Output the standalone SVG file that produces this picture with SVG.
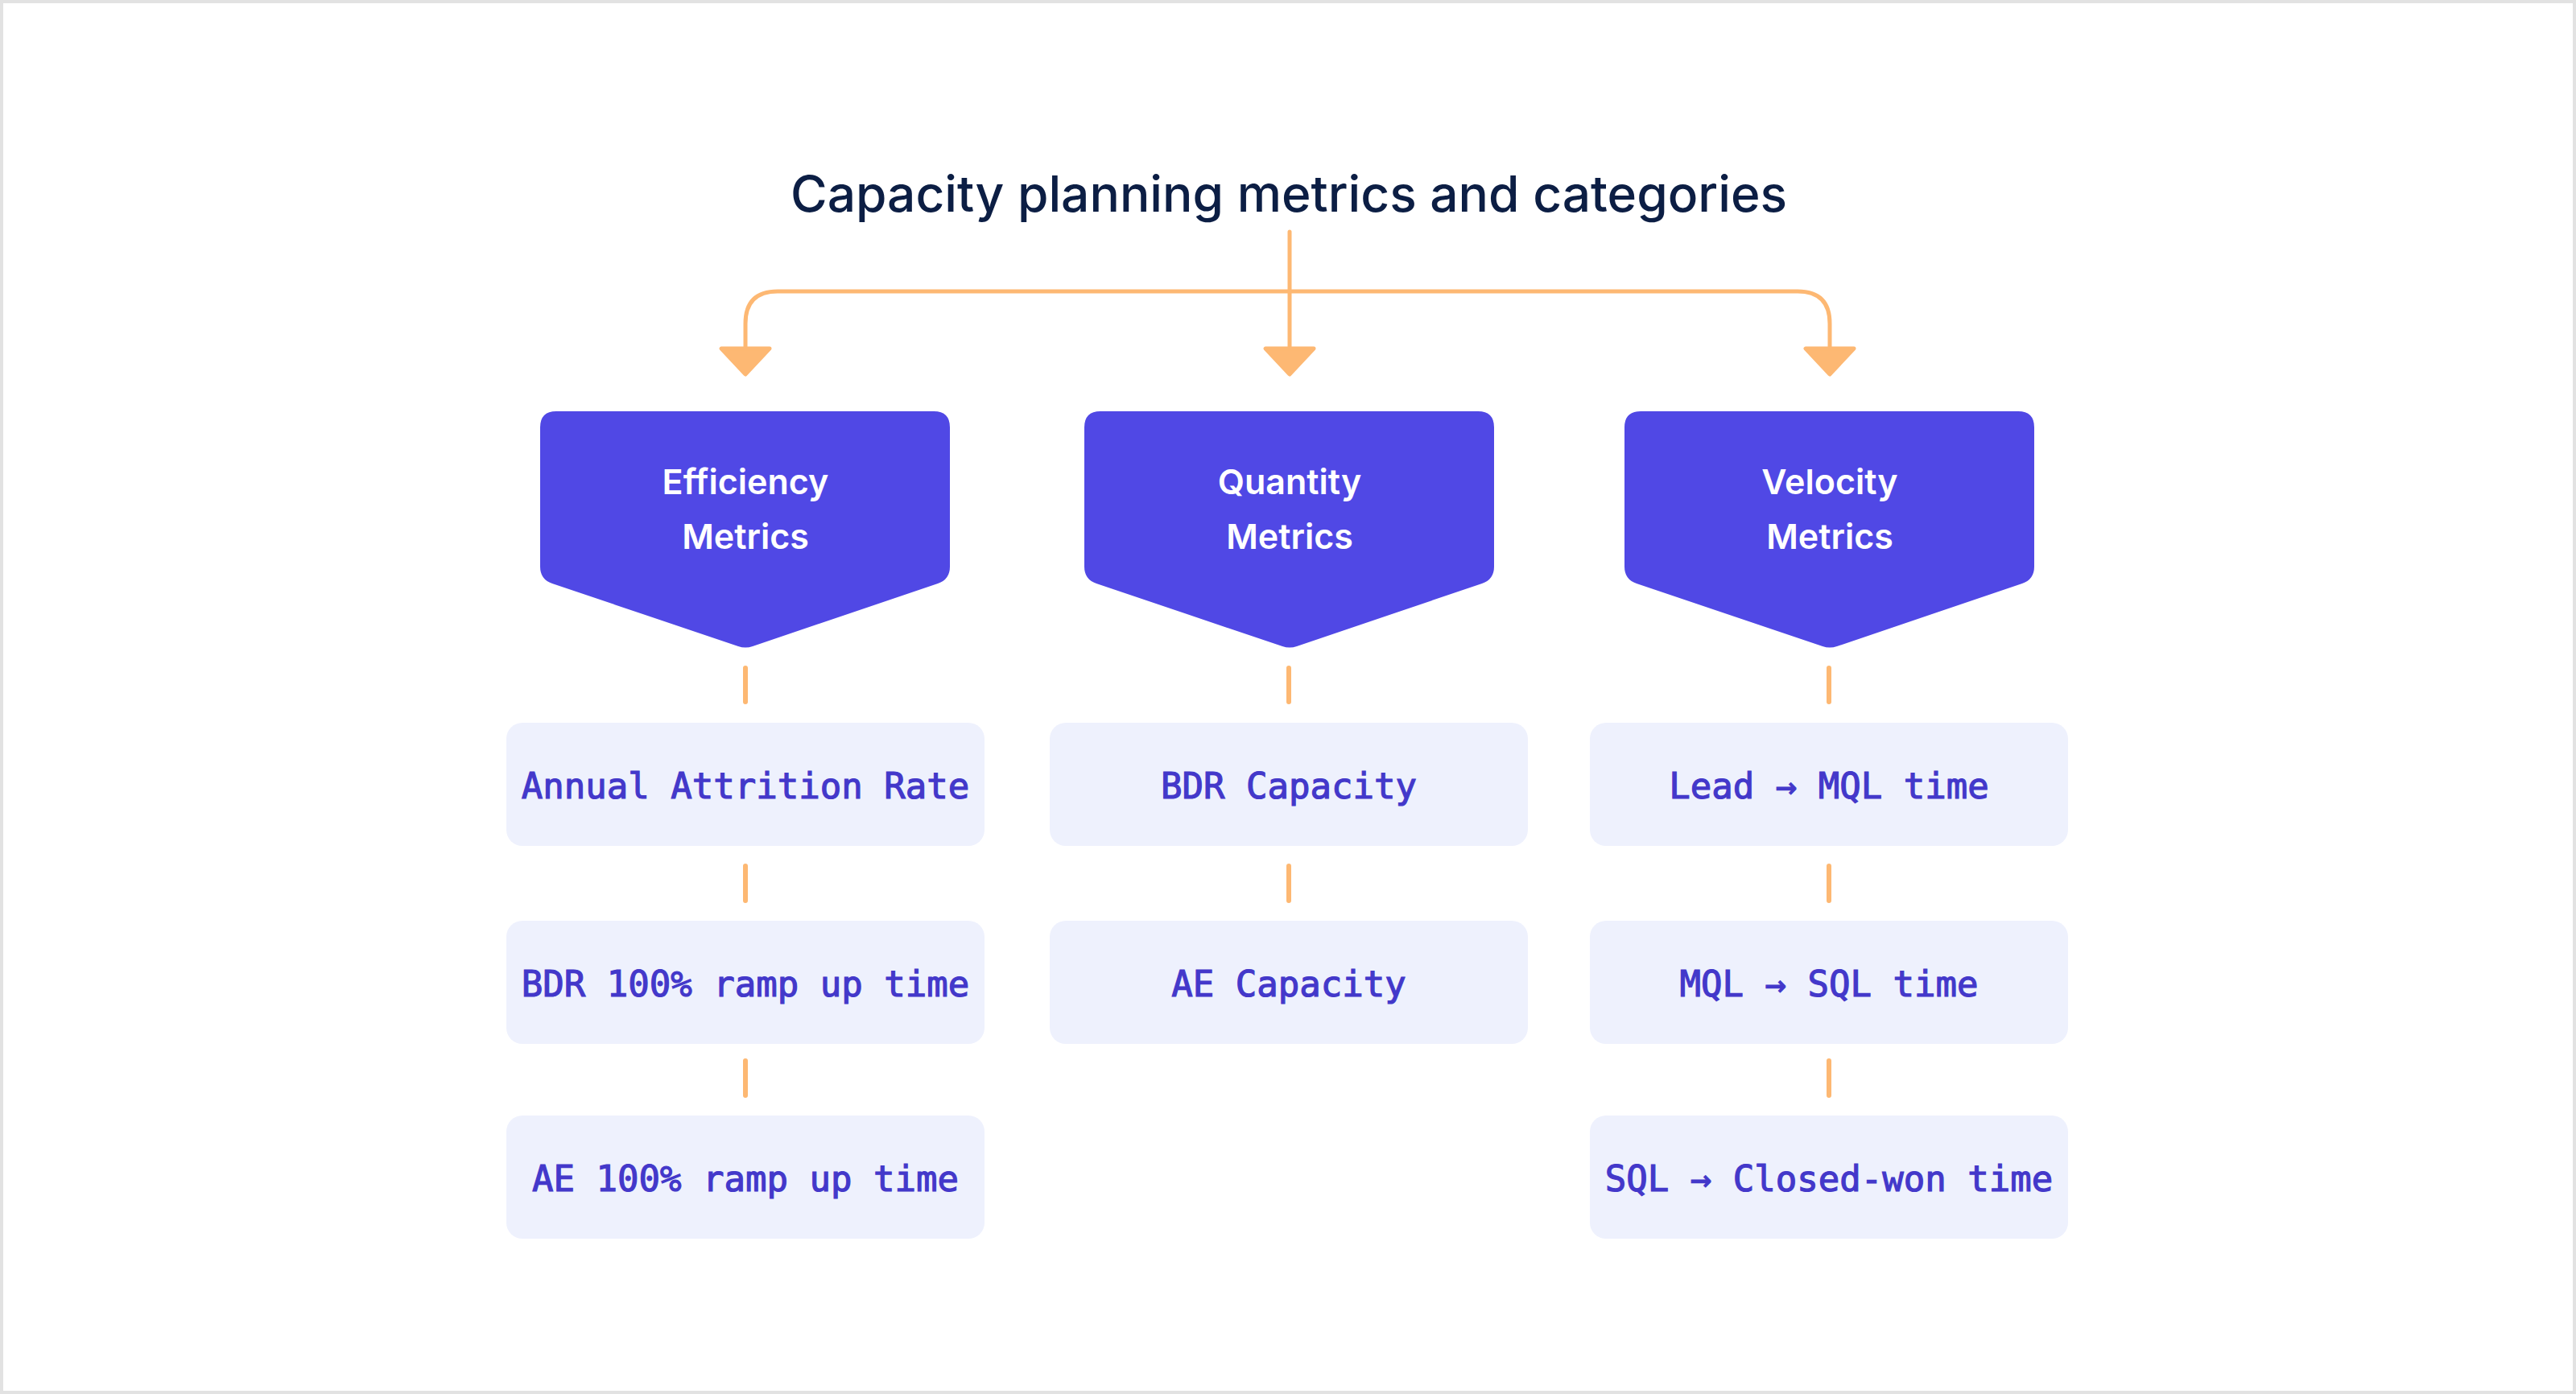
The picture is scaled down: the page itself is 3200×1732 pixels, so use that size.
<svg xmlns="http://www.w3.org/2000/svg" width="3200" height="1732" viewBox="0 0 3200 1732">
<defs>
<style>
.title{font-family:Inter,"Noto Sans","Liberation Sans",sans-serif;font-weight:500;font-size:62px;fill:#0c1e44}
.hdr{fill:#5048e5}
.htxt{font-family:Inter,"Noto Sans","Liberation Sans",sans-serif;font-weight:600;font-size:43px;fill:#ffffff;text-anchor:middle}
.item{fill:#eef1fd}
.itxt{font-family:"DejaVu Sans Mono","Liberation Mono",monospace;font-size:44px;fill:#4338ca;stroke:#4338ca;stroke-width:1.2;text-anchor:middle}
.line{fill:none;stroke:#fdb873;stroke-width:5;stroke-linecap:round}
.dash{fill:none;stroke:#fdb873;stroke-width:6;stroke-linecap:round}
.head{fill:#fdb873;stroke:#fdb873;stroke-width:5;stroke-linejoin:round}
</style>
</defs>
<rect x="2" y="2" width="3196" height="1728" fill="#ffffff" stroke="#e2e2e2" stroke-width="4"/>
<text class="title" x="982" y="263" textLength="1238" lengthAdjust="spacingAndGlyphs">Capacity planning metrics and categories</text>

<g id="connectors">
<path class="line" d="M1602,288 V432"/>
<path class="line" d="M926,432 V402 Q926,362 966,362 H2233 Q2273,362 2273,402 V432"/>
<path class="head" d="M896,433 L956,433 L926,465 Z"/>
<path class="head" d="M1572,433 L1632,433 L1602,465 Z"/>
<path class="head" d="M2243,433 L2303,433 L2273,465 Z"/>
<path class="dash" d="M926,830 V872 M926,1076 V1119 M926,1318 V1361"/>
<path class="dash" d="M1601,830 V872 M1601,1076 V1119"/>
<path class="dash" d="M2272,830 V872 M2272,1076 V1119 M2272,1318 V1361"/>
</g>

<g id="efficiency">
<path class="hdr" d="M691,511 H1160 Q1180,511 1180,531 V704 Q1180,720 1165,725 L935,803 Q926,806 917,803 L686,725 Q671,720 671,704 V531 Q671,511 691,511 Z"/>
<text class="htxt" x="926" y="614">Efficiency</text>
<text class="htxt" x="926" y="682">Metrics</text>
</g>
<g id="quantity">
<path class="hdr" d="M1367,511 H1836 Q1856,511 1856,531 V704 Q1856,720 1841,725 L1611,803 Q1602,806 1593,803 L1362,725 Q1347,720 1347,704 V531 Q1347,511 1367,511 Z"/>
<text class="htxt" x="1602" y="614">Quantity</text>
<text class="htxt" x="1602" y="682">Metrics</text>
</g>
<g id="velocity">
<path class="hdr" d="M2038,511 H2507 Q2527,511 2527,531 V704 Q2527,720 2512,725 L2282,803 Q2273,806 2264,803 L2033,725 Q2018,720 2018,704 V531 Q2018,511 2038,511 Z"/>
<text class="htxt" x="2273" y="614">Velocity</text>
<text class="htxt" x="2273" y="682">Metrics</text>
</g>

<g id="annual-attrition">
<rect class="item" x="629" y="898" width="594" height="153" rx="20"/>
<text class="itxt" x="926" y="992">Annual Attrition Rate</text>
</g>
<g id="bdr-ramp">
<rect class="item" x="629" y="1144" width="594" height="153" rx="20"/>
<text class="itxt" x="926" y="1238">BDR 100% ramp up time</text>
</g>
<g id="ae-ramp">
<rect class="item" x="629" y="1386" width="594" height="153" rx="20"/>
<text class="itxt" x="926" y="1480">AE 100% ramp up time</text>
</g>
<g id="bdr-capacity">
<rect class="item" x="1304" y="898" width="594" height="153" rx="20"/>
<text class="itxt" x="1601" y="992">BDR Capacity</text>
</g>
<g id="ae-capacity">
<rect class="item" x="1304" y="1144" width="594" height="153" rx="20"/>
<text class="itxt" x="1601" y="1238">AE Capacity</text>
</g>
<g id="lead-mql">
<rect class="item" x="1975" y="898" width="594" height="153" rx="20"/>
<text class="itxt" x="2272" y="992">Lead → MQL time</text>
</g>
<g id="mql-sql">
<rect class="item" x="1975" y="1144" width="594" height="153" rx="20"/>
<text class="itxt" x="2272" y="1238">MQL → SQL time</text>
</g>
<g id="sql-closed">
<rect class="item" x="1975" y="1386" width="594" height="153" rx="20"/>
<text class="itxt" x="2272" y="1480">SQL → Closed-won time</text>
</g>
</svg>
